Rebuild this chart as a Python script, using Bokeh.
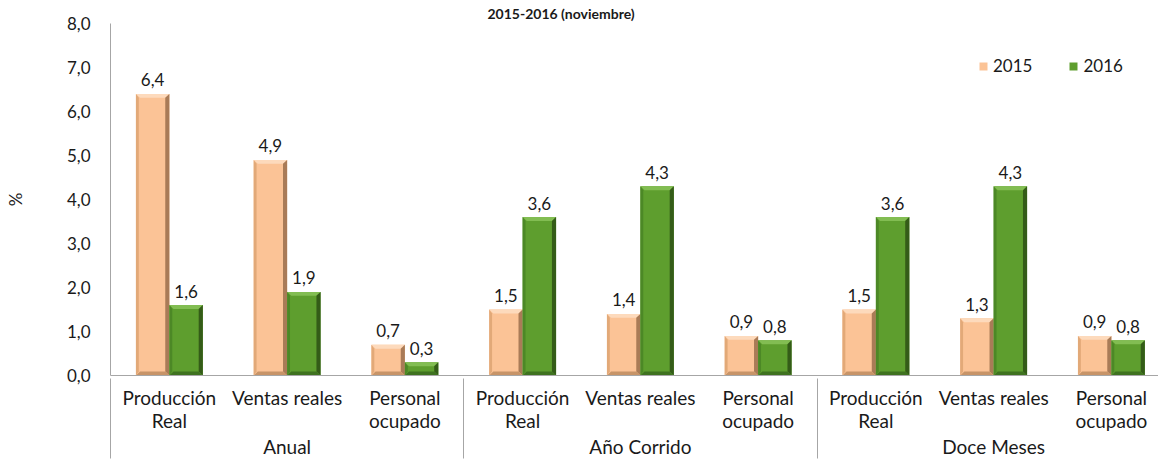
from bokeh.plotting import figure
from bokeh.models import (Range1d, FixedTicker, Legend, LegendItem, ColumnDataSource,
                          LinearAxis, AllLabels)
from bokeh.core.properties import value
from bokeh.embed import file_html
from bokeh.resources import INLINE

# ---- data ----
groups = ["Anual", "Año Corrido", "Doce Meses"]
categories = ["Producción\nReal", "Ventas reales", "Personal\nocupado"]
series_names = ["2015", "2016"]
values_2015 = [6.4, 4.9, 0.7, 1.5, 1.4, 0.9, 1.5, 1.3, 0.9]
values_2016 = [1.6, 1.9, 0.3, 3.6, 4.3, 0.8, 3.6, 4.3, 0.8]
y_ticks = [0, 1, 2, 3, 4, 5, 6, 7, 8]
title_text = "2015-2016 (noviembre)"

FONT = "Lato"
TXT = "#1A1A1A"
GRAY = "#A6A6A6"
n_per = len(categories)
n_cat = len(groups) * n_per

# palettes: body, top, left, right, bottom
pal = {
    "2015": ("#FBC396", "#FDDABC", "#E2A978", "#A97B57", "#C79468"),
    "2016": ("#5E9E2E", "#82BD52", "#4C8826", "#345C18", "#3F7220"),
}

p = figure(width=1158, height=460, output_backend="svg", toolbar_location=None,
           x_range=Range1d(0, 8.9), y_range=Range1d(0, 8.0),
           x_axis_location=None, title=title_text,
           min_border_left=110, min_border_right=0, min_border_top=22, min_border_bottom=0)
p.outline_line_color = None
p.xgrid.visible = False
p.ygrid.visible = False

p.title.text_font = FONT
p.title.text_font_size = "14px"
p.title.text_font_style = "bold"
p.title.text_color = TXT
p.title.align = "left"
p.title.offset = 377
p.title.standoff = 4

ya = p.yaxis[0]
ya.ticker = FixedTicker(ticks=y_ticks)
ya.major_label_overrides = {t: f"{t:.1f}".replace(".", ",") for t in y_ticks}
ya.major_tick_line_color = None
ya.minor_tick_line_color = None
ya.axis_line_color = GRAY
ya.major_label_text_font = FONT
ya.major_label_text_font_size = "17px"
ya.major_label_text_color = TXT
ya.major_label_standoff = 14
ya.axis_label = "%"
ya.axis_label_text_font = FONT
ya.axis_label_text_font_style = "normal"
ya.axis_label_text_font_size = "17px"
ya.axis_label_text_color = TXT
ya.axis_label_standoff = 38

# category axis: baseline + (multi-line) category labels
cat_ticks = [i + 0.5 for i in range(n_cat)]
ax_cat = LinearAxis(ticker=FixedTicker(ticks=cat_ticks),
                    major_label_overrides={t: categories[i % n_per] for i, t in enumerate(cat_ticks)},
                    major_label_policy=AllLabels(),
                    axis_line_color=GRAY, major_tick_line_color=None, minor_tick_line_color=None,
                    major_tick_in=0, major_tick_out=0,
                    major_label_standoff=10, major_label_text_font=FONT,
                    major_label_text_font_size="19px", major_label_text_color=TXT,
                    major_label_text_line_height=1.0)
p.add_layout(ax_cat, "below")

# group axis: group labels + separators (minor ticks reaching up to the baseline)
grp_ticks = [g * n_per + n_per / 2 for g in range(len(groups))]
sep_ticks = [g * n_per for g in range(len(groups) + 1)]
ax_grp = LinearAxis(ticker=FixedTicker(ticks=grp_ticks, minor_ticks=sep_ticks),
                    major_label_overrides={t: groups[i] for i, t in enumerate(grp_ticks)},
                    major_label_policy=AllLabels(),
                    axis_line_color=None, major_tick_line_color=None,
                    major_tick_in=0, major_tick_out=0,
                    minor_tick_line_color=GRAY, minor_tick_in=56, minor_tick_out=24,
                    major_label_standoff=-24,
                    major_label_text_font=FONT, major_label_text_font_size="19px",
                    major_label_text_color=TXT)
p.add_layout(ax_grp, "below")

bar_w = 0.284
bx = 0.035   # bevel in x (data units)
by = 0.09    # bevel in y (data units)

legend_items = []
for si, (name, vals) in enumerate([("2015", values_2015), ("2016", values_2016)]):
    off = -bar_w / 2 if si == 0 else bar_w / 2
    centers = [i + 0.5 + off for i in range(n_cat)]
    L = [c - bar_w / 2 for c in centers]
    R = [c + bar_w / 2 for c in centers]
    body, ctop, cleft, cright, cbot = pal[name]
    src = ColumnDataSource(dict(left=L, right=R, top=vals, bottom=[0] * n_cat))
    r = p.quad(left="left", right="right", top="top", bottom="bottom", source=src,
               fill_color=body, line_color=None)
    legend_items.append(LegendItem(label=name, renderers=[r]))
    tops_x, tops_y, lefts_x, lefts_y, rights_x, rights_y, bots_x, bots_y = ([] for _ in range(8))
    for l, rr, t in zip(L, R, vals):
        dy = min(by, t / 3)
        tops_x.append([l, rr, rr - bx, l + bx]); tops_y.append([t, t, t - dy, t - dy])
        lefts_x.append([l, l + bx * 0.7, l + bx * 0.7, l]); lefts_y.append([t, t - dy, dy, 0])
        rights_x.append([rr, rr - bx, rr - bx, rr]); rights_y.append([t, t - dy, dy, 0])
        bots_x.append([l, l + bx, rr - bx, rr]); bots_y.append([0, dy, dy, 0])
    p.patches(tops_x, tops_y, fill_color=ctop, line_color=None)
    p.patches(lefts_x, lefts_y, fill_color=cleft, line_color=None)
    p.patches(rights_x, rights_y, fill_color=cright, line_color=None)
    p.patches(bots_x, bots_y, fill_color=cbot, line_color=None)
    p.text(x=centers, y=[v + 0.32 for v in vals], text=[f"{v:.1f}".replace(".", ",") for v in vals],
           text_align="center", text_baseline="alphabetic", text_font=value(FONT),
           text_font_size="17px", text_color=TXT)

legend = Legend(items=legend_items, orientation="horizontal", location=(868, 299),
                label_text_font=FONT, label_text_font_size="17px", label_text_color=TXT,
                glyph_width=10, glyph_height=10, label_standoff=5, spacing=36,
                padding=0, margin=0, background_fill_alpha=0, border_line_alpha=0)
p.add_layout(legend)

open("out.html", "w").write(file_html(p, INLINE))
